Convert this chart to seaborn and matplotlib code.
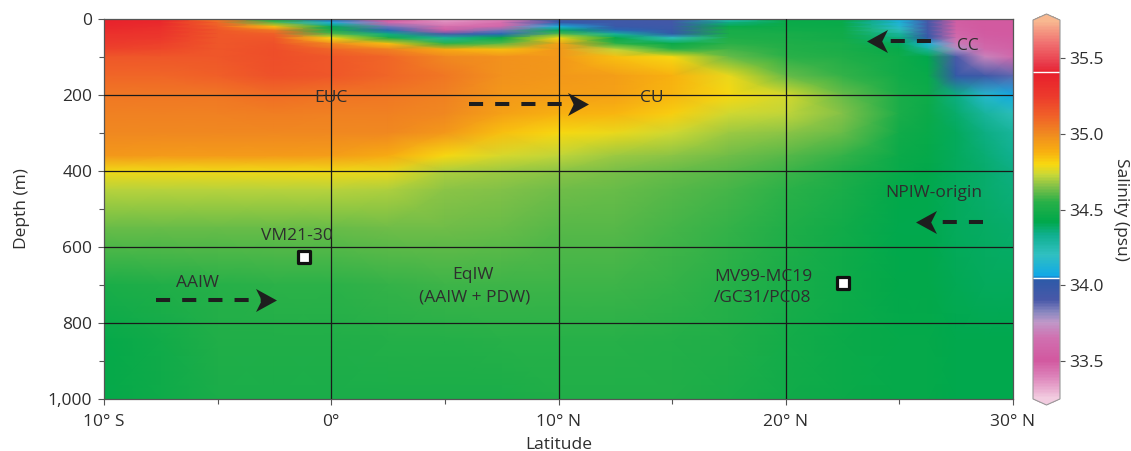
import numpy as np
import pandas as pd
import seaborn as sns
import matplotlib.pyplot as plt
from matplotlib.colors import LinearSegmentedColormap, Normalize
from matplotlib.path import Path
from matplotlib.ticker import FuncFormatter, MultipleLocator

# Salinity section (psu): one list per latitude, values by depth
lats = [-10, -7.5, -5, -2.5, 0, 2.5, 5, 7.5, 10, 12.5, 15, 17.5, 20, 22.5, 25, 26.25, 27.5, 28.75, 30]
depths = [0, 10, 20, 30, 40, 50, 65, 80, 100, 150, 200, 250, 300, 360, 400, 450, 550, 700, 850, 1000]
salinity_by_lat = [
    [35.38, 35.37, 35.35, 35.33, 35.30, 35.28, 35.25, 35.22, 35.15, 35.10, 35.05, 35.02, 35.00, 34.95, 34.79, 34.71, 34.62, 34.50, 34.44, 34.44],  # 10S
    [35.35, 35.34, 35.32, 35.30, 35.28, 35.26, 35.23, 35.20, 35.15, 35.10, 35.05, 35.02, 35.00, 34.94, 34.79, 34.71, 34.62, 34.52, 34.48, 34.47],
    [35.05, 35.10, 35.12, 35.15, 35.15, 35.15, 35.15, 35.15, 35.15, 35.12, 35.05, 35.02, 35.00, 34.94, 34.79, 34.71, 34.62, 34.54, 34.52, 34.50],
    [34.45, 34.60, 34.85, 35.05, 35.12, 35.15, 35.17, 35.18, 35.18, 35.17, 35.08, 35.03, 35.00, 34.94, 34.79, 34.71, 34.62, 34.55, 34.52, 34.50],
    [34.00, 34.10, 34.40, 34.50, 34.60, 34.80, 35.00, 35.10, 35.15, 35.15, 35.06, 35.02, 35.00, 34.93, 34.79, 34.71, 34.62, 34.55, 34.52, 34.50],  # 0
    [33.50, 33.60, 33.85, 34.05, 34.35, 34.50, 34.85, 35.02, 35.10, 35.10, 35.05, 35.02, 35.00, 34.90, 34.78, 34.70, 34.63, 34.56, 34.53, 34.50],
    [33.35, 33.38, 33.45, 33.55, 33.90, 34.30, 34.55, 34.90, 35.00, 35.05, 35.02, 35.00, 34.95, 34.80, 34.70, 34.66, 34.63, 34.57, 34.53, 34.50],
    [33.40, 33.45, 33.60, 33.85, 34.05, 34.45, 34.60, 34.85, 34.97, 34.97, 34.95, 34.92, 34.85, 34.75, 34.68, 34.65, 34.62, 34.57, 34.54, 34.50],
    [33.95, 34.00, 34.10, 34.40, 34.60, 34.80, 34.92, 34.95, 34.95, 34.95, 34.93, 34.88, 34.80, 34.72, 34.66, 34.63, 34.60, 34.57, 34.54, 34.52],  # 10N
    [33.95, 33.95, 33.97, 34.05, 34.30, 34.45, 34.55, 34.72, 34.85, 34.93, 34.92, 34.87, 34.78, 34.68, 34.64, 34.62, 34.60, 34.57, 34.54, 34.52],
    [33.93, 33.93, 33.95, 33.97, 34.02, 34.20, 34.45, 34.55, 34.80, 34.88, 34.87, 34.82, 34.74, 34.66, 34.62, 34.60, 34.58, 34.56, 34.53, 34.52],
    [34.20, 34.35, 34.45, 34.50, 34.50, 34.52, 34.55, 34.58, 34.62, 34.78, 34.80, 34.74, 34.68, 34.63, 34.60, 34.58, 34.56, 34.54, 34.52, 34.50],
    [34.45, 34.46, 34.47, 34.48, 34.50, 34.50, 34.52, 34.53, 34.55, 34.62, 34.75, 34.72, 34.66, 34.60, 34.57, 34.55, 34.52, 34.50, 34.49, 34.48],  # 20N
    [34.45, 34.45, 34.46, 34.47, 34.48, 34.48, 34.50, 34.50, 34.52, 34.56, 34.62, 34.65, 34.62, 34.56, 34.52, 34.50, 34.48, 34.47, 34.46, 34.46],
    [34.10, 34.12, 34.15, 34.22, 34.30, 34.35, 34.40, 34.45, 34.47, 34.48, 34.50, 34.50, 34.48, 34.46, 34.45, 34.43, 34.42, 34.43, 34.44, 34.44],
    [33.92, 33.92, 33.93, 33.94, 33.96, 34.02, 34.12, 34.30, 34.42, 34.45, 34.47, 34.46, 34.45, 34.44, 34.43, 34.42, 34.42, 34.43, 34.44, 34.44],
    [33.55, 33.55, 33.56, 33.58, 33.60, 33.63, 33.68, 33.78, 33.90, 34.00, 34.35, 34.38, 34.40, 34.40, 34.40, 34.40, 34.40, 34.41, 34.42, 34.42],
    [33.50, 33.50, 33.50, 33.52, 33.53, 33.55, 33.58, 33.62, 33.70, 33.95, 34.15, 34.30, 34.35, 34.37, 34.38, 34.38, 34.39, 34.40, 34.42, 34.42],
    [33.50, 33.50, 33.50, 33.50, 33.52, 33.53, 33.55, 33.57, 33.62, 33.88, 34.08, 34.22, 34.30, 34.33, 34.35, 34.36, 34.38, 34.40, 34.42, 34.42],  # 30N
]

# sediment core sites
core_names = ['VM21-30', 'MV99-MC19/GC31/PC08']
core_lats = [-1.2, 22.53]
core_depths = [626, 696]

# water mass labels
label_texts = ['EUC', 'CU', 'CC', 'NPIW-origin', 'VM21-30', 'AAIW', 'EqIW', '(AAIW + PDW)']
label_lats = [0.0, 14.1, 28.0, 26.5, -1.5, -5.9, 6.25, 6.3]
label_depths = [208, 208, 70, 458, 571, 695, 674, 733]
core2_lines = ['MV99-MC19', '/GC31/PC08']
core2_lat = 16.85
core2_depths = [679, 734]

# flow arrows: tail latitude, tip latitude, depth
arrow_tails = [-7.7, 6.05, 26.4, 28.7]
arrow_tips = [-2.4, 11.3, 23.55, 25.7]
arrow_depths = [740, 224, 58, 534]

lat_ticks = [-10, 0, 10, 20, 30]
lat_labels = ['10° S', '0°', '10° N', '20° N', '30° N']
depth_ticks = [0, 200, 400, 600, 800, 1000]
cbar_ticks = [33.5, 34.0, 34.5, 35.0, 35.5]

stops = [
    (33.25, '#f2cce0'), (33.4, '#dc80b8'), (33.5, '#d2589f'), (33.65, '#d070b0'),
    (33.75, '#c098c8'), (33.82, '#8a88c0'), (33.9, '#4858a8'), (34.04, '#2c5aa8'),
    (34.06, '#10a8e8'), (34.2, '#30c0c0'), (34.33, '#10b090'), (34.42, '#00a84a'),
    (34.55, '#28b048'), (34.65, '#80c048'), (34.73, '#c8d838'), (34.8, '#f8d810'),
    (34.88, '#f8b010'), (35.0, '#f08a20'), (35.12, '#f06028'), (35.25, '#ec3a2c'),
    (35.4, '#e8202c'), (35.46, '#e83848'), (35.6, '#f07070'), (35.75, '#f8b890'),
]

sns.set_style("ticks")
plt.rcParams['font.family'] = ['Open Sans', 'DejaVu Sans']
txt = '#2e2e2e'
fs = 12.5

fig = plt.figure(figsize=(11.31, 4.51), dpi=100)
ax = fig.add_axes([104 / 1131, 1 - 399 / 451, 909 / 1131, 380 / 451])
cax = fig.add_axes([1033 / 1131, 1 - 405 / 451, 27 / 1131, 391 / 451])

vmin, vmax = 33.25, 35.75
cmap = LinearSegmentedColormap.from_list('salinity', [((v - vmin) / (vmax - vmin), c) for v, c in stops])
cmap.set_over('#f8b890')
cmap.set_under('#f2cce0')
norm = Normalize(vmin, vmax)

X, Y = np.meshgrid(lats, depths)
field = np.array(salinity_by_lat).T
mesh = ax.pcolormesh(X, Y, field, cmap=cmap, norm=norm, shading='gouraud', rasterized=True)

# grid
for x in [0, 10, 20]:
    ax.axvline(x, color='#1a1a1a', lw=0.9, zorder=3)
for y in [200, 400, 600, 800]:
    ax.axhline(y, color='#1a1a1a', lw=0.9, zorder=3)

# dashed arrows with stealth heads
head_r = [(1, 0), (-1, 1.1), (-0.45, 0), (-1, -1.1), (1, 0)]
codes = [Path.MOVETO, Path.LINETO, Path.LINETO, Path.LINETO, Path.CLOSEPOLY]
for t0, t1, d in zip(arrow_tails, arrow_tips, arrow_depths):
    sgn = 1 if t1 > t0 else -1
    ax.plot([t0, t1 - sgn * 0.6], [d, d], color='#1e1e1e', lw=2.9,
            linestyle=(0, (3.5, 3)), solid_capstyle='butt', zorder=4)
    verts = [(sgn * vx, vy) for vx, vy in head_r]
    ax.plot([t1 - sgn * 0.46], [d], marker=Path(verts, codes), markersize=16.6,
            color='#1e1e1e', mew=0, linestyle='none', zorder=4)

# core sites
cores = pd.DataFrame({'core': core_names, 'lat': core_lats, 'depth': core_depths})
sns.scatterplot(data=cores, x='lat', y='depth', marker='s', s=70, color='white',
                edgecolor='#111111', linewidth=2.3, ax=ax, zorder=6, legend=False)

for s, x, y in zip(label_texts, label_lats, label_depths):
    ax.text(x, y, s, ha='center', va='center', fontsize=fs, color=txt, zorder=5)
for s, y in zip(core2_lines, core2_depths):
    ax.text(core2_lat, y, s, ha='left', va='center', fontsize=fs, color=txt, zorder=5)

ax.set_xlim(-10, 30)
ax.set_ylim(1000, 0)
ax.set_xticks(lat_ticks)
ax.set_xticklabels(lat_labels)
ax.set_yticks(depth_ticks)
ax.yaxis.set_major_formatter(FuncFormatter(lambda v, p: f'{v:,.0f}'))
ax.xaxis.set_minor_locator(MultipleLocator(5))
ax.yaxis.set_minor_locator(MultipleLocator(100))
ax.tick_params(which='major', direction='out', length=4.5, width=0.8, color='#555555',
               labelsize=fs, labelcolor=txt)
ax.tick_params(axis='x', which='major', pad=6)
ax.tick_params(axis='y', which='major', pad=4)
ax.tick_params(which='minor', direction='out', length=3.5, width=0.8, color='#555555')
ax.set_xlabel('Latitude', fontsize=fs, color=txt, labelpad=5)
ax.set_ylabel('Depth (m)', fontsize=fs, color=txt, labelpad=13)
for sp in ax.spines.values():
    sp.set_color('#555555')
    sp.set_linewidth(0.9)

cbar = fig.colorbar(mesh, cax=cax, extend='both', extendfrac=0.016, ticks=cbar_ticks)
cbar.outline.set_edgecolor('#999999')
cbar.outline.set_linewidth(0.8)
cbar.ax.tick_params(length=3.5, width=0.8, color='#555555', labelsize=fs, labelcolor=txt, pad=3)
cbar.ax.set_yticklabels([f'{t:.1f}' for t in cbar_ticks])
cbar.ax.axhline(35.41, color='white', lw=1)
cbar.ax.axhline(34.05, color='white', lw=1)
cbar.set_label('Salinity (psu)', rotation=270, fontsize=fs, color=txt, labelpad=18)

fig.savefig('out.png', dpi=100)
